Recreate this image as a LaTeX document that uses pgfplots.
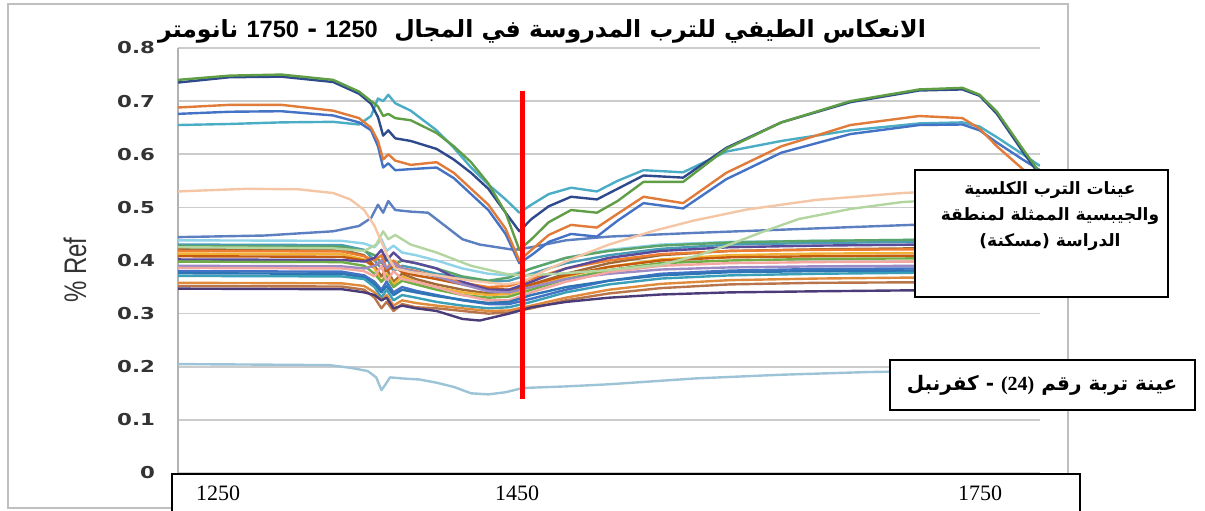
\documentclass[border=0pt]{standalone}
\usepackage{fontspec}
\usepackage{pgfplots}
\pgfplotsset{compat=1.18}
\setmainfont{Liberation Serif}
\newfontfamily\arabicfont[Script=Arabic]{DejaVu Sans}
\newfontfamily\tickfont{DejaVu Sans}
\newfontfamily\lsans{Liberation Sans}
\TeXXeTstate=1
\definecolor{hgreen}{HTML}{5F9E45}
\definecolor{hdblue}{HTML}{2E4A8C}
\definecolor{horange}{HTML}{E07B39}
\definecolor{hblue}{HTML}{4472C4}
\definecolor{hteal}{HTML}{4BACC6}
\definecolor{peach}{HTML}{F5C6A5}
\definecolor{lgreen}{HTML}{B3D6A0}
\definecolor{mblue}{HTML}{5B7FC0}
\definecolor{s24}{HTML}{9DC3D6}
\definecolor{lcyan}{HTML}{8FD3E8}
\definecolor{tgray}{HTML}{4A9BB5}
\definecolor{lgr2}{HTML}{5AA469}
\definecolor{lbrown}{HTML}{9E6A3A}
\definecolor{lorange}{HTML}{ED7D31}
\definecolor{lgold}{HTML}{F2B134}
\definecolor{ldorange}{HTML}{C55A11}
\definecolor{lindigo}{HTML}{5A4A9A}
\definecolor{lgreen2}{HTML}{70AD47}
\definecolor{lpurple}{HTML}{9C8AC4}
\definecolor{lpink}{HTML}{F4A6A0}
\definecolor{lblue}{HTML}{4472C4}
\definecolor{lblue2}{HTML}{2E75B6}
\definecolor{lteal}{HTML}{3AA0B8}
\definecolor{lorange3}{HTML}{E08A3C}
\definecolor{lsalmon}{HTML}{B8744A}
\definecolor{ldpurple}{HTML}{4B3B78}
\begin{document}
\begin{tikzpicture}
\useasboundingbox (0,0) rectangle (602.5pt,255pt);
\draw[black!25, line width=1pt] (4pt,1pt) rectangle (534pt,253pt);
\begin{axis}[
  at={(89pt,18.5pt)}, anchor=south west,
  scale only axis, width=431pt, height=212.5pt,
  xmin=1250, xmax=1750, ymin=0, ymax=0.8,
  axis lines*=left,
  x axis line style={draw=none},
  y axis line style={draw=black!30, line width=1pt, -},
  xtick=\empty,
  ytick={0,0.1,0.2,0.3,0.4,0.5,0.6,0.7,0.8},
  yticklabels={\scalebox{1.3}[1]{0},\scalebox{1.3}[1]{0.1},\scalebox{1.3}[1]{0.2},\scalebox{1.3}[1]{0.3},\scalebox{1.3}[1]{0.4},\scalebox{1.3}[1]{0.5},\scalebox{1.3}[1]{0.6},\scalebox{1.3}[1]{0.7},\scalebox{1.3}[1]{0.8}},
  yticklabel style={font=\tickfont\bfseries\fontsize{8.2}{9}\selectfont, text=black!80, anchor=east, xshift=-8pt},
  major tick length=0pt,
  ymajorgrids, grid style={black!20, line width=0.8pt},
  every axis plot/.append style={line width=1.2pt, line join=round, no markers},
]
% lower group
\addplot[lcyan] coordinates {(1250,0.438)(1345,0.437)(1358,0.432)(1364,0.425)(1368,0.44)(1371,0.418)(1375,0.428)(1380,0.415)(1388,0.41)(1400,0.40)(1415,0.385)(1430,0.375)(1442,0.372)(1455,0.385)(1475,0.405)(1500,0.42)(1530,0.43)(1570,0.435)(1620,0.437)(1680,0.439)(1750,0.44)};
\addplot[tgray] coordinates {(1250,0.430)(1345,0.429)(1358,0.42)(1364,0.40)(1368,0.385)(1371,0.405)(1375,0.38)(1380,0.39)(1388,0.385)(1400,0.375)(1415,0.368)(1430,0.36)(1442,0.362)(1455,0.375)(1475,0.395)(1500,0.41)(1530,0.422)(1570,0.43)(1620,0.433)(1680,0.435)(1750,0.436)};
\addplot[lgr2] coordinates {(1250,0.427)(1345,0.426)(1358,0.418)(1364,0.41)(1368,0.395)(1371,0.41)(1375,0.392)(1380,0.40)(1388,0.395)(1400,0.385)(1415,0.37)(1430,0.362)(1442,0.368)(1455,0.385)(1475,0.405)(1500,0.418)(1530,0.428)(1570,0.434)(1620,0.437)(1680,0.439)(1750,0.44)};
\addplot[lbrown] coordinates {(1250,0.422)(1345,0.42)(1358,0.41)(1364,0.39)(1368,0.37)(1371,0.385)(1375,0.36)(1380,0.375)(1388,0.365)(1400,0.355)(1415,0.345)(1430,0.338)(1442,0.34)(1455,0.355)(1475,0.375)(1500,0.395)(1530,0.41)(1570,0.418)(1620,0.421)(1680,0.423)(1750,0.425)};
\addplot[lorange] coordinates {(1250,0.418)(1345,0.417)(1358,0.408)(1364,0.40)(1368,0.41)(1371,0.385)(1375,0.40)(1380,0.385)(1388,0.38)(1400,0.37)(1415,0.358)(1430,0.35)(1442,0.352)(1455,0.365)(1475,0.385)(1500,0.40)(1530,0.412)(1570,0.418)(1620,0.42)(1680,0.421)(1750,0.422)};
\addplot[lgold] coordinates {(1250,0.413)(1345,0.412)(1358,0.402)(1364,0.385)(1368,0.36)(1371,0.375)(1375,0.355)(1380,0.37)(1388,0.36)(1400,0.35)(1415,0.34)(1430,0.335)(1442,0.337)(1455,0.35)(1475,0.37)(1500,0.388)(1530,0.402)(1570,0.41)(1620,0.413)(1680,0.414)(1750,0.415)};
\addplot[ldorange] coordinates {(1250,0.408)(1345,0.407)(1358,0.40)(1364,0.39)(1368,0.40)(1371,0.38)(1375,0.39)(1380,0.378)(1388,0.372)(1400,0.365)(1415,0.355)(1430,0.347)(1442,0.345)(1455,0.355)(1475,0.372)(1500,0.388)(1530,0.40)(1570,0.406)(1620,0.408)(1680,0.409)(1750,0.41)};
\addplot[lindigo] coordinates {(1250,0.402)(1345,0.401)(1358,0.398)(1364,0.405)(1368,0.42)(1371,0.40)(1375,0.415)(1380,0.40)(1388,0.395)(1400,0.385)(1415,0.36)(1430,0.345)(1442,0.345)(1455,0.36)(1475,0.385)(1500,0.405)(1530,0.418)(1570,0.425)(1620,0.428)(1680,0.43)(1750,0.43)};
\addplot[lgreen2] coordinates {(1250,0.398)(1345,0.397)(1358,0.39)(1364,0.375)(1368,0.36)(1371,0.37)(1375,0.35)(1380,0.362)(1388,0.355)(1400,0.345)(1415,0.335)(1430,0.33)(1442,0.332)(1455,0.345)(1475,0.365)(1500,0.382)(1530,0.395)(1570,0.40)(1620,0.403)(1680,0.404)(1750,0.405)};
\addplot[lpurple] coordinates {(1250,0.390)(1345,0.389)(1358,0.385)(1364,0.39)(1368,0.40)(1371,0.385)(1375,0.395)(1380,0.385)(1388,0.378)(1400,0.37)(1415,0.355)(1430,0.342)(1442,0.34)(1455,0.35)(1475,0.365)(1500,0.375)(1530,0.383)(1570,0.387)(1620,0.389)(1680,0.39)(1750,0.39)};
\addplot[lpink] coordinates {(1250,0.386)(1345,0.385)(1358,0.38)(1364,0.37)(1368,0.39)(1371,0.36)(1375,0.38)(1380,0.365)(1388,0.36)(1400,0.35)(1415,0.335)(1430,0.325)(1442,0.325)(1455,0.34)(1475,0.36)(1500,0.378)(1530,0.39)(1570,0.395)(1620,0.397)(1680,0.398)(1750,0.398)};
\addplot[lblue] coordinates {(1250,0.380)(1345,0.379)(1358,0.372)(1364,0.36)(1368,0.345)(1371,0.36)(1375,0.34)(1380,0.35)(1388,0.343)(1400,0.335)(1415,0.325)(1430,0.318)(1442,0.318)(1455,0.328)(1475,0.345)(1500,0.362)(1530,0.375)(1570,0.381)(1620,0.384)(1680,0.385)(1750,0.386)};
\addplot[lblue2] coordinates {(1250,0.376)(1345,0.375)(1358,0.368)(1364,0.355)(1368,0.34)(1371,0.352)(1375,0.335)(1380,0.345)(1388,0.34)(1400,0.333)(1415,0.326)(1430,0.32)(1442,0.322)(1455,0.335)(1475,0.35)(1500,0.362)(1530,0.372)(1570,0.378)(1620,0.38)(1680,0.381)(1750,0.382)};
\addplot[lteal] coordinates {(1250,0.371)(1345,0.37)(1358,0.365)(1364,0.35)(1368,0.33)(1371,0.345)(1375,0.325)(1380,0.335)(1388,0.33)(1400,0.322)(1415,0.315)(1430,0.31)(1442,0.312)(1455,0.322)(1475,0.34)(1500,0.355)(1530,0.366)(1570,0.372)(1620,0.375)(1680,0.377)(1750,0.378)};
\addplot[lorange3] coordinates {(1250,0.358)(1345,0.357)(1358,0.352)(1364,0.34)(1368,0.325)(1371,0.335)(1375,0.315)(1380,0.325)(1388,0.32)(1400,0.315)(1415,0.31)(1430,0.305)(1442,0.306)(1455,0.315)(1475,0.33)(1500,0.345)(1530,0.356)(1570,0.363)(1620,0.366)(1680,0.368)(1750,0.369)};
\addplot[lsalmon] coordinates {(1250,0.352)(1345,0.351)(1358,0.345)(1364,0.33)(1368,0.31)(1371,0.322)(1375,0.305)(1380,0.318)(1388,0.312)(1400,0.31)(1415,0.305)(1430,0.30)(1442,0.302)(1455,0.31)(1475,0.325)(1500,0.338)(1530,0.348)(1570,0.355)(1620,0.358)(1680,0.359)(1750,0.36)};
\addplot[ldpurple] coordinates {(1250,0.347)(1345,0.346)(1358,0.34)(1364,0.335)(1368,0.325)(1371,0.33)(1375,0.31)(1380,0.315)(1388,0.31)(1400,0.305)(1415,0.29)(1425,0.287)(1442,0.30)(1455,0.312)(1475,0.322)(1500,0.33)(1530,0.336)(1570,0.34)(1620,0.342)(1680,0.344)(1750,0.345)};
% sample 24
\addplot[s24] coordinates {(1250,0.205)(1300,0.204)(1338,0.203)(1350,0.198)(1360,0.192)(1365,0.180)(1368,0.156)(1370,0.165)(1373,0.180)(1380,0.178)(1390,0.176)(1400,0.170)(1410,0.162)(1420,0.150)(1430,0.148)(1440,0.152)(1450,0.160)(1475,0.163)(1500,0.167)(1550,0.178)(1600,0.185)(1650,0.190)(1700,0.193)(1750,0.195)};
% middle group
\addplot[mblue] coordinates {(1250,0.444)(1300,0.447)(1340,0.455)(1355,0.465)(1362,0.48)(1366,0.505)(1369,0.49)(1372,0.512)(1376,0.495)(1385,0.492)(1395,0.49)(1405,0.465)(1415,0.44)(1425,0.43)(1435,0.425)(1445,0.42)(1455,0.425)(1475,0.438)(1500,0.445)(1550,0.452)(1600,0.458)(1675,0.467)(1750,0.470)};
\addplot[lgreen] coordinates {(1250,0.425)(1340,0.423)(1358,0.418)(1365,0.43)(1369,0.455)(1372,0.44)(1376,0.448)(1385,0.43)(1400,0.415)(1420,0.39)(1440,0.375)(1450,0.372)(1470,0.375)(1500,0.382)(1530,0.392)(1550,0.408)(1570,0.43)(1590,0.455)(1610,0.478)(1640,0.497)(1670,0.510)(1710,0.517)(1750,0.520)};
\addplot[peach] coordinates {(1250,0.530)(1290,0.535)(1320,0.534)(1340,0.527)(1350,0.515)(1358,0.495)(1364,0.465)(1368,0.435)(1372,0.405)(1376,0.385)(1385,0.378)(1400,0.372)(1420,0.362)(1440,0.355)(1450,0.360)(1462,0.380)(1480,0.405)(1500,0.430)(1525,0.455)(1549,0.475)(1580,0.496)(1620,0.514)(1670,0.527)(1710,0.533)(1750,0.535)};
% high group
\addplot[hteal] coordinates {(1250,0.655)(1280,0.657)(1310,0.660)(1340,0.661)(1355,0.656)(1362,0.672)(1366,0.705)(1369,0.700)(1372,0.712)(1376,0.696)(1385,0.682)(1400,0.645)(1410,0.612)(1420,0.575)(1430,0.543)(1440,0.515)(1448,0.490)(1455,0.505)(1465,0.525)(1478,0.537)(1493,0.530)(1505,0.550)(1520,0.570)(1543,0.566)(1568,0.605)(1600,0.625)(1640,0.645)(1680,0.658)(1705,0.660)(1715,0.652)(1725,0.632)(1740,0.600)(1750,0.578)};
\addplot[hblue] coordinates {(1250,0.676)(1280,0.680)(1310,0.681)(1340,0.673)(1355,0.660)(1362,0.645)(1366,0.615)(1369,0.575)(1372,0.583)(1376,0.570)(1385,0.572)(1400,0.575)(1410,0.555)(1420,0.525)(1430,0.495)(1440,0.450)(1448,0.395)(1455,0.410)(1465,0.435)(1478,0.450)(1493,0.445)(1505,0.475)(1520,0.508)(1543,0.498)(1568,0.553)(1600,0.603)(1640,0.638)(1680,0.655)(1705,0.656)(1715,0.645)(1725,0.622)(1740,0.590)(1750,0.570)};
\addplot[horange] coordinates {(1250,0.688)(1280,0.693)(1310,0.693)(1340,0.682)(1355,0.668)(1362,0.650)(1366,0.625)(1369,0.590)(1372,0.600)(1376,0.588)(1385,0.580)(1400,0.585)(1410,0.565)(1420,0.535)(1430,0.505)(1440,0.460)(1448,0.400)(1455,0.420)(1465,0.448)(1478,0.467)(1493,0.462)(1505,0.488)(1520,0.520)(1543,0.508)(1568,0.565)(1600,0.615)(1640,0.655)(1680,0.672)(1705,0.668)(1715,0.648)(1725,0.615)(1740,0.572)(1750,0.550)};
\addplot[hdblue] coordinates {(1250,0.735)(1280,0.745)(1310,0.746)(1340,0.736)(1355,0.714)(1362,0.695)(1366,0.670)(1369,0.635)(1372,0.645)(1376,0.630)(1385,0.625)(1400,0.610)(1410,0.590)(1420,0.565)(1430,0.535)(1440,0.490)(1448,0.455)(1455,0.478)(1465,0.502)(1478,0.520)(1493,0.515)(1505,0.535)(1520,0.560)(1543,0.556)(1568,0.612)(1600,0.660)(1640,0.698)(1680,0.720)(1705,0.722)(1715,0.710)(1725,0.676)(1740,0.605)(1750,0.560)};
\addplot[hgreen] coordinates {(1250,0.740)(1280,0.748)(1310,0.750)(1340,0.740)(1355,0.718)(1362,0.700)(1366,0.690)(1369,0.672)(1372,0.676)(1376,0.668)(1385,0.664)(1400,0.640)(1410,0.615)(1420,0.585)(1430,0.545)(1440,0.490)(1448,0.420)(1455,0.440)(1465,0.472)(1478,0.495)(1493,0.490)(1505,0.512)(1520,0.548)(1543,0.548)(1568,0.610)(1600,0.660)(1640,0.700)(1680,0.722)(1705,0.725)(1715,0.712)(1725,0.680)(1740,0.610)(1750,0.565)};
% red marker line
\addplot[red, line width=2.5pt, line cap=butt] coordinates {(1450,0.72)(1450,0.14)};
\end{axis}
% y label
\node[rotate=90, text=black!80, font=\lsans\fontsize{12}{13}\selectfont] at (37.5pt,120pt) {\scalebox{1}[1.3]{\% Ref}};
% title
\node[font=\arabicfont\bfseries\fontsize{11.8}{13}\selectfont] at (271pt,239.5pt) {\beginR الانعكاس الطيفي للترب المدروسة في المجال \ {\lsans\bfseries\beginL 1250\endL{}} - {\lsans\bfseries\beginL 1750\endL{}} نانومتر\endR};
% x box
\draw[black, line width=1pt, fill=white] (86pt,-5pt) rectangle (540pt,18pt);
\node[font=\fontsize{11}{12}\selectfont] at (109pt,8.5pt) {1250};
\node[font=\fontsize{11}{12}\selectfont] at (258.5pt,8.5pt) {1450};
\node[font=\fontsize{11}{12}\selectfont] at (490pt,8.5pt) {1750};
% box 1
\draw[black, line width=1pt, fill=white] (457.5pt,106.5pt) rectangle (584pt,170pt);
\node[align=center, font=\arabicfont\bfseries\fontsize{8.5}{13}\selectfont] at (525pt,147pt) {\beginR عينات الترب الكلسية\endR\\ \beginR والجيبسية الممثلة لمنطقة\endR\\ \beginR الدراسة (مسكنة)\endR};
% box 2
\draw[black, line width=1pt, fill=white] (445pt,50pt) rectangle (597.5pt,75pt);
\node[font=\arabicfont\bfseries\fontsize{10}{12}\selectfont] at (521pt,62.5pt) {\beginR عينة تربة رقم {\rmfamily\bfseries\beginL(24)\endL{}} - كفرنبل\endR};
\end{tikzpicture}
\end{document}
